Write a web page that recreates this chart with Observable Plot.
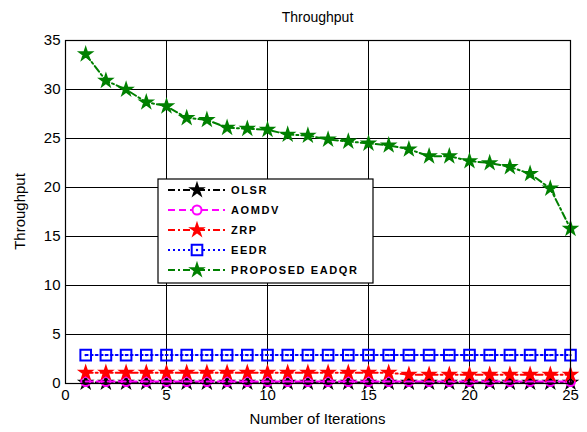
<!DOCTYPE html>
<html><head><meta charset="utf-8">
<script src="https://cdn.jsdelivr.net/npm/d3@7"></script>
<script src="https://cdn.jsdelivr.net/npm/@observablehq/plot@0.6"></script>
<style>body{margin:0;background:#fff;font-family:Arial,"Liberation Sans",sans-serif}</style>
</head><body><div id="chart"></div>
<script>
const iterations = [1,2,3,4,5,6,7,8,9,10,11,12,13,14,15,16,17,18,19,20,21,22,23,24,25];
const olsr = [0.1,0.1,0.1,0.1,0.1,0.1,0.1,0.1,0.1,0.1,0.1,0.1,0.1,0.1,0.1,0.1,0.1,0.1,0.1,0.1,0.1,0.1,0.1,0.1,0.1];
const aomdv = [0.2,0.2,0.2,0.2,0.2,0.2,0.2,0.2,0.2,0.2,0.2,0.2,0.2,0.2,0.2,0.2,0.2,0.2,0.2,0.2,0.2,0.2,0.2,0.2,0.2];
const zrp = [1.1,1.1,1.1,1.1,1.1,1.1,1.1,1.1,1.1,1.1,1.1,1.1,1.1,1.1,1.1,1.1,0.9,0.9,0.9,0.9,0.9,0.9,0.9,0.9,0.9];
const eedr = [2.9,2.9,2.9,2.9,2.9,2.9,2.9,2.9,2.9,2.9,2.9,2.9,2.9,2.9,2.9,2.9,2.9,2.9,2.9,2.9,2.9,2.9,2.9,2.9,2.9];
const proposed = [33.6,30.9,30.0,28.7,28.3,27.1,26.9,26.1,26.0,25.9,25.4,25.3,24.9,24.7,24.5,24.3,23.9,23.2,23.2,22.7,22.5,22.1,21.4,19.9,15.8];
const seriesNames = ["OLSR","AOMDV","ZRP","EEDR","PROPOSED EADQR"];
const xTicks = [0,5,10,15,20,25];
const yTicks = [0,5,10,15,20,25,30,35];

const styles = {
  "OLSR": {color:"#000000", dash:"7,3,2,3", symbol:"star", fill:true, r:3.6},
  "AOMDV": {color:"#ff00ff", dash:"7,4", symbol:"circle", fill:false, r:4.5},
  "ZRP": {color:"#ff0000", dash:"7,3,2,3", symbol:"star", fill:true, r:3.6},
  "EEDR": {color:"#0000ff", dash:"2,3", symbol:"square", fill:false, r:6},
  "PROPOSED EADQR": {color:"#008000", dash:"7,3,2,3", symbol:"star", fill:true, r:3.6}
};
const values = [olsr, aomdv, zrp, eedr, proposed];
const rows = [];
seriesNames.forEach((s,i)=> iterations.forEach((x,j)=> rows.push({series:s, x, y: values[i][j]})));

const marks = [
  Plot.gridX(xTicks, {stroke:"#777", strokeOpacity:1, strokeDasharray:"1,2"}),
  Plot.gridY(yTicks, {stroke:"#777", strokeOpacity:1, strokeDasharray:"1,2"}),
  Plot.tickX(xTicks, {x:d=>d, y1:0, y2:0.35, stroke:"#000"}),
  Plot.tickX(xTicks, {x:d=>d, y1:34.65, y2:35, stroke:"#000"}),
  Plot.tickY(yTicks, {y:d=>d, x1:0, x2:0.25, stroke:"#000"}),
  Plot.tickY(yTicks, {y:d=>d, x1:24.75, x2:25, stroke:"#000"}),
];
seriesNames.forEach(s=>{
  const st = styles[s];
  const data = rows.filter(r=>r.series===s);
  marks.push(Plot.line(data, {x:"x", y:"y", stroke:st.color, strokeWidth:2, strokeDasharray:st.dash}));
  marks.push(Plot.dot(data, {x:"x", y:"y", symbol:st.symbol, r: st.r,
    fill: st.fill?st.color:"none", stroke:st.color, strokeWidth:2}));
  if (s==="EEDR") marks.push(Plot.dot(data, {x:"x", y:"y", r:1.2, fill:st.color, stroke:"none"}));
});
marks.push(Plot.frame({stroke:"#000", strokeWidth:1.2}));

const chart = Plot.plot({
  width:587, height:432,
  marginLeft:65, marginRight:17, marginTop:40, marginBottom:49,
  style:{fontFamily:"Arial, 'Liberation Sans', sans-serif", fontSize:"15px", background:"#fff", overflow:"visible"},
  x:{domain:[0,25], ticks:xTicks, tickSize:0, tickPadding:6, label:null},
  y:{domain:[0,35], ticks:yTicks, tickSize:0, tickPadding:5, label:null},
  marks
});
document.getElementById("chart").appendChild(chart);

const ff = "Arial, 'Liberation Sans', sans-serif";
const svg = d3.select(chart);
svg.append("text").attr("x", (65+570)/2).attr("y", 22).attr("text-anchor","middle")
  .style("font-size","14px").style("font-family",ff).text("Throughput");
svg.append("text").attr("x", (65+570)/2).attr("y", 424).attr("text-anchor","middle")
  .style("font-size","15px").style("font-family",ff).text("Number of Iterations");
svg.append("text").attr("transform", `translate(25,${(40+383)/2}) rotate(-90)`).attr("text-anchor","middle")
  .style("font-size","15px").style("font-family",ff).text("Throughput");

// legend
const lg = svg.append("g").attr("transform","translate(158,179)");
lg.append("rect").attr("width",215).attr("height",104).attr("fill","#fff").attr("stroke","#000").attr("stroke-width",1.2);
seriesNames.forEach((s,i)=>{
  const st = styles[s];
  const yy = 11 + i*20;
  lg.append("line").attr("x1",10).attr("x2",67).attr("y1",yy).attr("y2",yy)
    .attr("stroke",st.color).attr("stroke-width",2).attr("stroke-dasharray",st.dash);
  const t = {star:d3.symbolStar, circle:d3.symbolCircle, square:d3.symbolSquare}[st.symbol];
  const size = Math.PI*st.r*st.r;
  lg.append("path").attr("d", d3.symbol(t, size)()).attr("transform",`translate(39,${yy})`)
    .attr("fill", st.fill?st.color:"#fff").attr("stroke",st.color).attr("stroke-width",2);
  if (s==="EEDR") lg.append("circle").attr("cx",39).attr("cy",yy).attr("r",1.2).attr("fill",st.color);
  lg.append("text").attr("x",73).attr("y",yy+4).attr("text-anchor","start").text(s)
    .style("font-size","11px").style("font-weight","bold").style("letter-spacing","1.6px")
    .style("font-family",ff);
});
</script></body></html>
